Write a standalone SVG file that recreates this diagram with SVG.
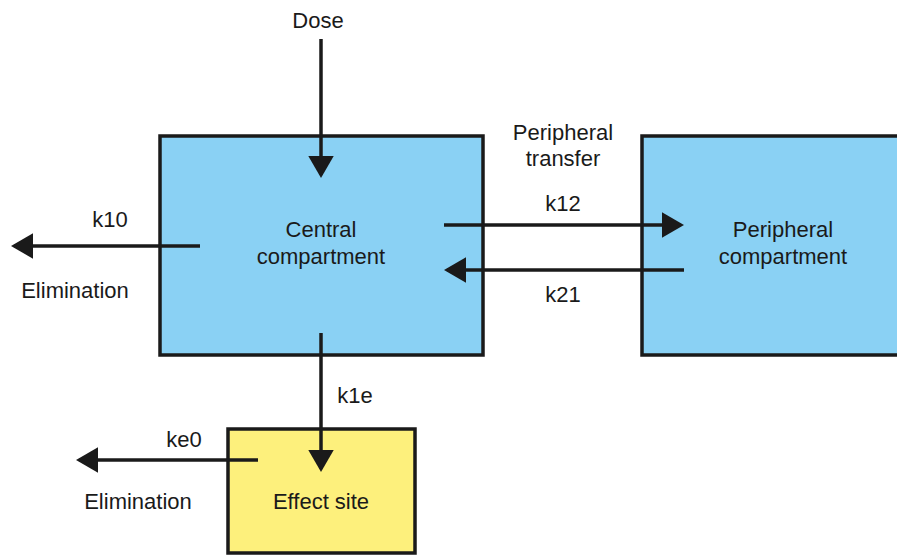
<svg xmlns="http://www.w3.org/2000/svg" width="897" height="556" viewBox="0 0 897 556">
<defs>
<style>
.box{stroke:#1a1a1a;stroke-width:3.5}
.blue{fill:#8AD1F4}
.yellow{fill:#FDF07C}
text{font-family:"Liberation Sans",Arial,sans-serif;font-size:22px;fill:#1a1a1a;text-anchor:middle}
.ln{stroke:#1a1a1a;stroke-width:3.5;fill:none}
</style>
<marker id="ah" markerWidth="6.4" markerHeight="7.4" refX="5.4" refY="3.7" orient="auto" markerUnits="strokeWidth" viewBox="0 0 6.4 7.4">
<path d="M0,0 L6.4,3.7 L0,7.4 Z" fill="#1a1a1a"/>
</marker>
</defs>
<rect width="897" height="556" fill="#fff"/>
<g id="central">
<rect class="box blue" x="160" y="136" width="323" height="219"/>
<text x="321" y="237">Central</text>
<text x="321" y="264">compartment</text>
</g>
<g id="peripheral">
<rect class="box blue" x="642" y="136" width="260" height="219"/>
<text x="783" y="237">Peripheral</text>
<text x="783" y="264">compartment</text>
</g>
<g id="effect">
<rect class="box yellow" x="228" y="429" width="187" height="124"/>
<text x="321" y="509">Effect site</text>
</g>
<g id="labels">
<text x="318" y="28">Dose</text>
<text x="563" y="140">Peripheral</text>
<text x="563" y="166">transfer</text>
<text x="563" y="211">k12</text>
<text x="563" y="302">k21</text>
<text x="110" y="227">k10</text>
<text x="75" y="298">Elimination</text>
<text x="355" y="403">k1e</text>
<text x="184" y="447">ke0</text>
<text x="138" y="509">Elimination</text>
</g>
<g id="connectors">
<line class="ln" x1="321" y1="39" x2="321" y2="174.5" marker-end="url(#ah)"/>
<line class="ln" x1="200" y1="246" x2="14.5" y2="246" marker-end="url(#ah)"/>
<line class="ln" x1="444" y1="225" x2="680.5" y2="225" marker-end="url(#ah)"/>
<line class="ln" x1="684" y1="270" x2="447.5" y2="270" marker-end="url(#ah)"/>
<line class="ln" x1="321" y1="333" x2="321" y2="468.5" marker-end="url(#ah)"/>
<line class="ln" x1="258" y1="460" x2="79.5" y2="460" marker-end="url(#ah)"/>
</g>
</svg>
